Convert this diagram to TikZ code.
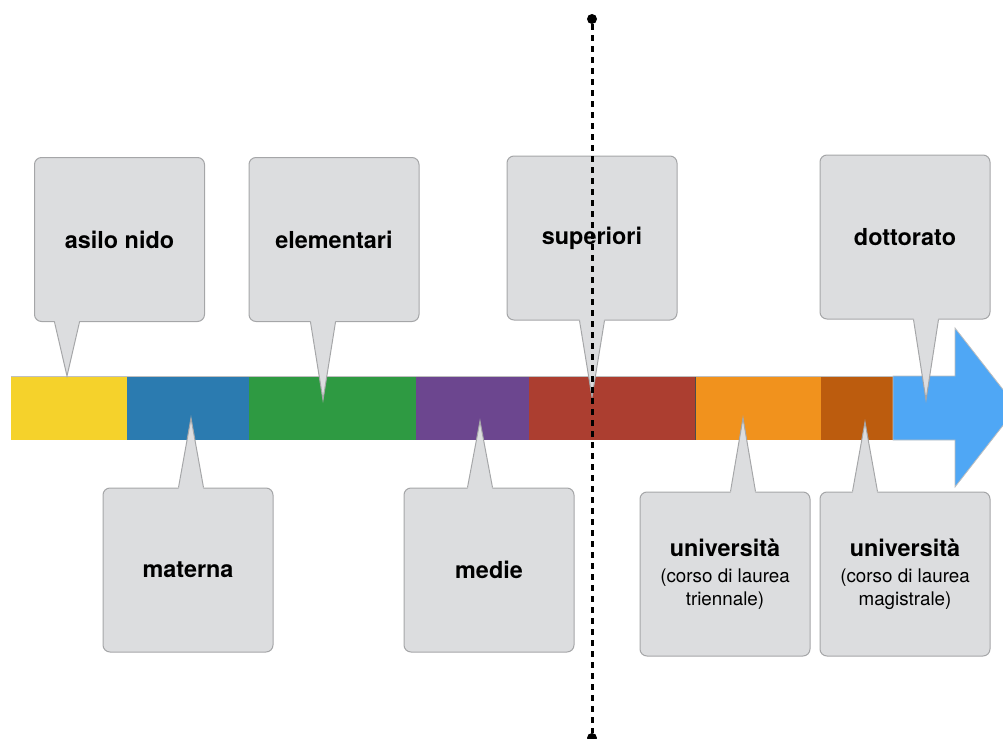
\documentclass[tikz,border=0pt]{standalone}
\usepackage{fontspec}
\setmainfont{TeX Gyre Heros}
\usetikzlibrary{calc}

\definecolor{boxgray}{HTML}{DCDDDF}
\definecolor{boxline}{HTML}{A5A6A8}
\definecolor{segyellow}{HTML}{F5D22B}
\definecolor{segblue}{HTML}{2B7BB0}
\definecolor{seggreen}{HTML}{2E9A42}
\definecolor{segpurple}{HTML}{6C468F}
\definecolor{segred}{HTML}{AC3E30}
\definecolor{segorange}{HTML}{F1921D}
\definecolor{segbrown}{HTML}{BC5C0E}
\definecolor{segsky}{HTML}{4FA7F5}

\begin{document}
\begin{tikzpicture}[x=0.5pt, y=-0.5pt,
    callout/.style={draw=boxline, line width=0.5pt, fill=boxgray, rounded corners=3.5pt,
        minimum width=85pt, minimum height=82pt, inner sep=0pt, align=center,
        font=\fontsize{11.7}{14}\selectfont\bfseries},
    subtext/.style={font=\fontsize{9.4}{11.5}\selectfont},
    dot/.style={circle, fill=black, inner sep=0pt, minimum size=5pt},
    timeline/.style={line width=1.5pt, dash pattern=on 3pt off 2.5pt}]
    \useasboundingbox (0,0) rectangle (1003,739);
    \clip (0,0) rectangle (1003,739);

    % Timeline bar
    \fill[segyellow] (11,376) rectangle (127,440);
    \fill[segblue] (127,376) rectangle (249,440);
    \fill[seggreen] (249,376) rectangle (416,440);
    \fill[segpurple] (416,376) rectangle (529,440);
    \fill[segred] (529,376) rectangle (695,440);
    \fill[segorange] (695,376) rectangle (821,440);
    \fill[segbrown] (821,376) rectangle (893,440);
    \draw[black!70, line width=0.4pt] (695,376) -- (695,440);
    \draw[black!25, line width=0.4pt] (11,376) -- (893,376);

    % Arrow head
    \filldraw[segsky, draw=black!25, line width=0.4pt] (893,376) -- (955,376) -- (955,328)
        -- (1017,407.5) -- (955,487) -- (955,440) -- (893,440) -- cycle;

    % Boxes above the bar
    \node[callout] (asilo) at (119.5,239.5) {asilo nido};
    \node[callout] (elem) at (334,239.5) {elementari};
    \node[callout] (sup) at (592,238) {superiori};
    \node[callout] (dott) at (905,237) {dottorato};

    % Boxes below the bar
    \node[callout] (materna) at (188,570) {materna};
    \node[callout] (medie) at (489,570) {medie};
    \node[callout, subtext] (triennale) at (725,574)
        {{\fontsize{11.7}{14}\selectfont\bfseries università}\\[1.5pt]
        (corso di laurea\\ triennale)};
    \node[callout, subtext] (magistrale) at (905,574)
        {{\fontsize{11.7}{14}\selectfont\bfseries università}\\[1.5pt]
        (corso di laurea\\ magistrale)};

    % Tips of the pointers
    \coordinate (asilotip) at (67,376);
    \coordinate (elemtip) at (323,400);
    \coordinate (suptip) at (592,397);
    \coordinate (dotttip) at (926,400);
    \coordinate (maternatip) at (191,418);
    \coordinate (medietip) at (480,421);
    \coordinate (triennaletip) at (743,418);
    \coordinate (magistraletip) at (865,422);

    % Pointers
    \foreach \b/\t/\o in {asilo.south/asilotip/-2, elem.south/elemtip/-2,
        sup.south/suptip/-2, dott.south/dotttip/-2, materna.north/maternatip/2,
        medie.north/medietip/2, triennale.north/triennaletip/2,
        magistrale.north/magistraletip/2} {
        \fill[boxgray] ($(\t |- \b)+(-12.5,\o)$) -- (\t) -- ($(\t |- \b)+(12.5,\o)$) -- cycle;
        \draw[boxline, line width=0.5pt] ($(\t |- \b)+(-12.5,0)$) -- (\t) -- ($(\t |- \b)+(12.5,0)$);
    }

    % Today line
    \node[dot] (nowtop) at (592,19) {};
    \node[dot] (nowbot) at (592,738) {};
    \draw[timeline] (nowtop) -- (nowbot);
\end{tikzpicture}
\end{document}
